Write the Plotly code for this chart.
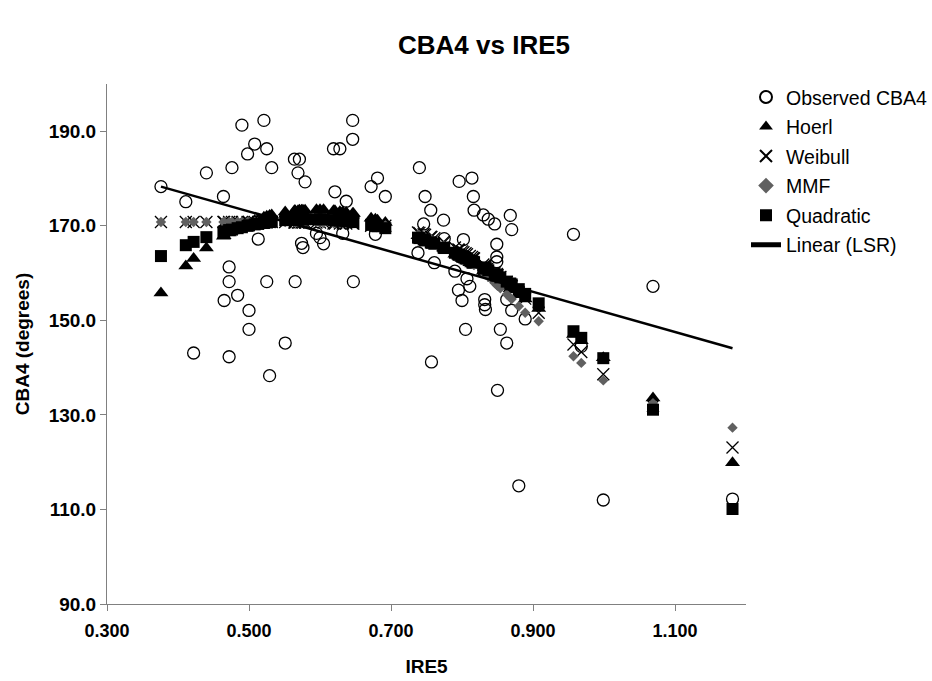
import plotly.graph_objects as go

# Observed CBA4 against IRE5
ire5_obs = [0.376, 0.411, 0.422, 0.440, 0.464, 0.465, 0.472, 0.472, 0.472, 0.476,
            0.484, 0.490, 0.498, 0.500, 0.500, 0.508, 0.513, 0.521, 0.525, 0.525,
            0.529, 0.532, 0.551, 0.564, 0.565, 0.569, 0.571, 0.574, 0.576, 0.579,
            0.595, 0.600, 0.605, 0.619, 0.621, 0.628, 0.632, 0.637, 0.646, 0.646,
            0.647, 0.672, 0.678, 0.681, 0.692, 0.738, 0.740, 0.746, 0.748, 0.756,
            0.757, 0.761, 0.774, 0.775, 0.790, 0.795, 0.796, 0.800, 0.802, 0.805,
            0.807, 0.811, 0.814, 0.816, 0.817, 0.830, 0.832, 0.832, 0.833, 0.837,
            0.846, 0.849, 0.849, 0.849, 0.850, 0.854, 0.863, 0.863, 0.868, 0.870,
            0.870, 0.880, 0.889, 0.957, 0.968, 0.999, 1.069, 1.181]
cba4_obs = [178.3, 175.1, 143.1, 181.2, 176.2, 154.2, 161.3, 158.2, 142.3, 182.3,
            155.3, 191.3, 185.2, 152.1, 148.1, 187.3, 167.2, 192.3, 186.3, 158.2,
            138.3, 182.3, 145.2, 184.1, 158.2, 181.2, 184.1, 166.3, 165.4, 179.3,
            168.4, 167.5, 166.2, 186.3, 177.2, 186.3, 168.4, 175.2, 192.3, 188.3,
            158.2, 178.3, 168.2, 180.1, 176.2, 164.3, 182.3, 170.4, 176.2, 173.3,
            141.2, 162.2, 171.2, 167.3, 160.4, 156.4, 179.4, 154.2, 167.1, 148.1,
            158.8, 157.2, 180.1, 176.2, 173.3, 172.3, 154.4, 153.3, 152.3, 171.4,
            170.4, 166.1, 163.4, 162.4, 135.2, 148.1, 154.4, 145.2, 172.2, 169.2,
            152.1, 115.0, 150.3, 168.2, 144.5, 112.0, 157.2, 112.2]

# Model predictions at the fitted IRE5 values
ire5_fit = [0.376, 0.411, 0.422, 0.440, 0.464, 0.465, 0.472, 0.476, 0.484, 0.490,
            0.498, 0.500, 0.508, 0.513, 0.521, 0.525, 0.529, 0.532, 0.551, 0.564,
            0.565, 0.569, 0.571, 0.574, 0.576, 0.579, 0.595, 0.600, 0.605, 0.619,
            0.621, 0.628, 0.632, 0.637, 0.646, 0.647, 0.672, 0.678, 0.681, 0.692,
            0.738, 0.740, 0.746, 0.748, 0.756, 0.757, 0.761, 0.774, 0.775, 0.790,
            0.795, 0.796, 0.800, 0.802, 0.805, 0.807, 0.811, 0.814, 0.816, 0.817,
            0.830, 0.832, 0.833, 0.837, 0.846, 0.849, 0.850, 0.854, 0.863, 0.868,
            0.870, 0.880, 0.889, 0.908, 0.957, 0.968, 0.999, 1.069, 1.181]
hoerl = [155.8, 161.5, 163.1, 165.3, 167.8, 167.9, 168.5, 168.9, 169.5, 170.0,
         170.5, 170.7, 171.1, 171.4, 171.8, 172.0, 172.2, 172.3, 172.9, 173.2,
         173.2, 173.2, 173.3, 173.3, 173.3, 173.3, 173.4, 173.4, 173.4, 173.2,
         173.2, 173.0, 172.9, 172.8, 172.6, 172.6, 171.6, 171.4, 171.2, 170.7,
         167.9, 167.8, 167.4, 167.2, 166.7, 166.6, 166.3, 165.3, 165.2, 164.0,
         163.6, 163.5, 163.1, 162.9, 162.7, 162.5, 162.2, 161.9, 161.7, 161.6,
         160.4, 160.2, 160.1, 159.7, 158.9, 158.6, 158.5, 158.1, 157.2, 156.7,
         156.5, 155.4, 154.5, 152.5, 147.0, 145.7, 142.1, 133.6, 119.9]
weibull = [170.8, 170.8, 170.8, 170.8, 170.8, 170.8, 170.8, 170.8, 170.8, 170.8,
           170.8, 170.8, 170.8, 170.8, 170.8, 170.8, 170.8, 170.8, 170.8, 170.7,
           170.7, 170.7, 170.7, 170.7, 170.7, 170.7, 170.7, 170.7, 170.7, 170.5,
           170.5, 170.5, 170.5, 170.5, 170.5, 170.5, 170.0, 170.0, 170.0, 170.0,
           168.6, 168.5, 168.2, 168.1, 167.7, 167.6, 167.4, 166.6, 166.5, 165.4,
           165.0, 164.9, 164.6, 164.4, 164.2, 164.0, 163.6, 163.4, 163.2, 163.1,
           161.8, 161.6, 161.5, 161.1, 160.1, 159.8, 159.6, 159.2, 158.1, 157.5,
           157.2, 155.9, 154.6, 151.6, 144.9, 143.3, 138.6, 131.9, 123.1]
mmf = [170.8, 170.8, 170.8, 170.8, 170.8, 170.8, 170.8, 170.8, 170.8, 170.8,
       170.8, 170.8, 170.8, 170.8, 170.8, 170.8, 170.8, 170.8, 170.8, 170.8,
       170.8, 170.8, 170.8, 170.8, 170.8, 170.8, 170.8, 170.8, 170.6, 170.6,
       170.6, 170.6, 170.6, 170.6, 170.6, 170.6, 170.1, 170.1, 170.1, 170.1,
       168.1, 168.0, 167.7, 167.6, 167.1, 167.0, 166.7, 165.8, 165.7, 164.5,
       164.0, 163.9, 163.5, 163.3, 163.0, 162.8, 162.4, 162.0, 161.8, 161.7,
       160.1, 159.8, 159.7, 159.2, 157.9, 157.5, 157.3, 156.8, 155.5, 154.8,
       154.5, 153.0, 151.6, 149.8, 142.4, 141.0, 137.3, 132.5, 127.3]
quadratic = [163.6, 165.9, 166.6, 167.6, 168.7, 168.8, 169.1, 169.2, 169.5, 169.7,
             170.0, 170.1, 170.3, 170.4, 170.6, 170.7, 170.8, 170.9, 171.2, 171.3,
             171.3, 171.3, 171.4, 171.4, 171.4, 171.4, 171.4, 171.4, 171.4, 171.2,
             171.2, 171.1, 171.1, 171.0, 170.8, 170.8, 170.2, 170.0, 169.9, 169.5,
             167.5, 167.4, 167.1, 166.9, 166.5, 166.4, 166.2, 165.4, 165.3, 164.3,
             163.9, 163.9, 163.6, 163.4, 163.2, 163.1, 162.7, 162.5, 162.4, 162.3,
             161.2, 161.0, 161.0, 160.6, 159.8, 159.5, 159.5, 159.1, 158.2, 157.8,
             157.6, 156.6, 155.6, 153.6, 147.7, 146.3, 142.0, 131.1, 110.1]

# Least-squares trend line end points
lsr_x = [0.376, 1.181]
lsr_y = [178.3, 144.1]

FONT = "Liberation Sans, Arial, Helvetica, sans-serif"

fig = go.Figure()
fig.add_trace(go.Scatter(
    x=ire5_obs, y=cba4_obs, mode="markers", name="Observed CBA4",
    legendgroup="obs",
    marker=dict(symbol="circle-open", size=12, color="black",
                line=dict(color="black", width=1.3))))
fig.add_trace(go.Scatter(
    x=ire5_fit, y=hoerl, mode="markers", name="Hoerl", legendgroup="hoerl",
    marker=dict(symbol="triangle-up", size=13, color="black")))
fig.add_trace(go.Scatter(
    x=ire5_fit, y=weibull, mode="markers", name="Weibull", legendgroup="weibull",
    marker=dict(symbol="x-thin", size=12, color="black",
                line=dict(color="black", width=1.3))))
fig.add_trace(go.Scatter(
    x=ire5_fit, y=mmf, mode="markers", name="MMF", legendgroup="mmf",
    marker=dict(symbol="diamond", size=8, color="#606060")))
fig.add_trace(go.Scatter(
    x=ire5_fit, y=quadratic, mode="markers", name="Quadratic",
    legendgroup="quad",
    marker=dict(symbol="square", size=12, color="black")))
fig.add_trace(go.Scatter(
    x=lsr_x, y=lsr_y, mode="lines", name="Linear (LSR)", legendgroup="lsr",
    line=dict(color="black", width=2.5)))

fig.update_layout(
    width=932, height=681,
    paper_bgcolor="white", plot_bgcolor="white",
    margin=dict(l=107, r=186, t=84, b=77, autoexpand=False),
    font=dict(family=FONT, color="black"),
    title=dict(text="<b>CBA4 vs IRE5</b>", x=484 / 932, xanchor="center",
               y=1 - 45 / 681, yanchor="middle", yref="container",
               font=dict(size=26, family=FONT, color="black")),
    legend=dict(x=1.0, xanchor="left", y=1.012, yanchor="top",
                font=dict(size=19.5, family=FONT, color="black"),
                bgcolor="rgba(0,0,0,0)", borderwidth=0,
                traceorder="grouped", tracegroupgap=1.2,
                itemsizing="constant"),
    showlegend=True,
)
fig.update_xaxes(
    range=[0.3, 1.2], tickmode="array", tickvals=[0.3, 0.5, 0.7, 0.9, 1.1],
    tickformat=".3f", showgrid=False, zeroline=False,
    showline=True, linecolor="#808080", linewidth=1,
    ticks="outside", ticklen=6, tickcolor="#808080",
    ticklabelstandoff=4,
    tickfont=dict(size=18, family=FONT, color="black", weight="bold"),
    title=dict(text="IRE5", standoff=20,
               font=dict(size=19, family=FONT, color="black", weight="bold")),
)
fig.update_yaxes(
    range=[90, 200], tickmode="array", tickvals=[90, 110, 130, 150, 170, 190],
    tickformat=".1f", showgrid=False, zeroline=False,
    showline=True, linecolor="#808080", linewidth=1,
    ticks="outside", ticklen=6, tickcolor="#808080",
    tickfont=dict(size=19, family=FONT, color="black", weight="bold"),
    title=dict(text="CBA4 (degrees)", standoff=14,
               font=dict(size=19, family=FONT, color="black", weight="bold")),
)

fig.write_html("out.html")
